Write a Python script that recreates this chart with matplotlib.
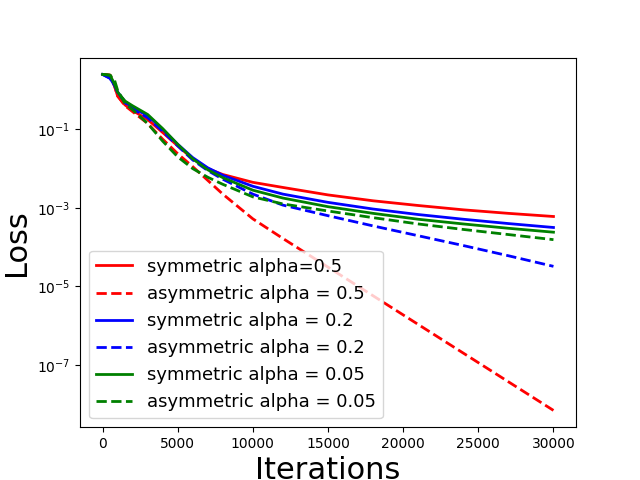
import numpy as np
import matplotlib
matplotlib.use("Agg")
import matplotlib.pyplot as plt
from matplotlib.ticker import FixedLocator, NullLocator, LogFormatterSciNotation

iterations = [0, 500, 800, 1000, 1500, 2000, 3000, 4000, 5000, 6000, 7000, 8000,
              10000, 12000, 15000, 18000, 21000, 24000, 27000, 30000]

# log10 of loss values
log_sym_05 = [0.40, 0.38, 0.10, -0.15, -0.38, -0.52, -0.75, -1.08, -1.42, -1.75, -2.00, -2.15,
              -2.35, -2.48, -2.67, -2.82, -2.94, -3.05, -3.14, -3.22]
log_asym_05 = [0.40, 0.38, 0.10, -0.15, -0.40, -0.55, -0.85, -1.25, -1.62, -1.95, -2.30, -2.65,
               -3.28, -3.78, -4.51, -5.24, -5.97, -6.70, -7.43, -8.16]
log_sym_02 = [0.40, 0.30, 0.12, -0.05, -0.30, -0.45, -0.65, -1.00, -1.38, -1.72, -1.98, -2.17,
              -2.45, -2.65, -2.86, -3.03, -3.17, -3.29, -3.40, -3.50]
log_asym_02 = [0.40, 0.30, 0.12, -0.05, -0.32, -0.48, -0.70, -1.05, -1.42, -1.78, -2.05, -2.27,
               -2.65, -2.93, -3.20, -3.46, -3.71, -3.96, -4.22, -4.49]
log_sym_005 = [0.40, 0.38, 0.15, -0.05, -0.28, -0.40, -0.62, -0.98, -1.38, -1.75, -2.03, -2.23,
               -2.55, -2.75, -2.97, -3.14, -3.29, -3.41, -3.52, -3.62]
log_asym_005 = [0.40, 0.38, 0.25, 0.00, -0.35, -0.50, -0.85, -1.30, -1.70, -2.00, -2.22, -2.40,
                -2.72, -2.90, -3.08, -3.25, -3.41, -3.55, -3.68, -3.81]

labels = ["symmetric alpha=0.5", "asymmetric alpha = 0.5",
          "symmetric alpha = 0.2", "asymmetric alpha = 0.2",
          "symmetric alpha = 0.05", "asymmetric alpha = 0.05"]

y_ticks = [1e-1, 1e-3, 1e-5, 1e-7]

series = [log_sym_05, log_asym_05, log_sym_02, log_asym_02, log_sym_005, log_asym_005]
colors = ["red", "red", "blue", "blue", "green", "green"]
styles = ["-", "--", "-", "--", "-", "--"]

fig, ax = plt.subplots(figsize=(6.4, 4.8), dpi=100)
x = np.array(iterations)
for s, c, ls, lab in zip(series, colors, styles, labels):
    ax.plot(x, 10 ** np.array(s), color=c, linestyle=ls, linewidth=2, label=lab)

ax.set_yscale("log")
ax.yaxis.set_major_locator(FixedLocator(y_ticks))
ax.yaxis.set_major_formatter(LogFormatterSciNotation())
ax.yaxis.set_minor_locator(NullLocator())
ax.set_xlabel("Iterations", fontsize=22)
ax.set_ylabel("Loss", fontsize=22)
ax.legend(loc="lower left", fontsize=13)
fig.savefig("out.png", dpi=100)
